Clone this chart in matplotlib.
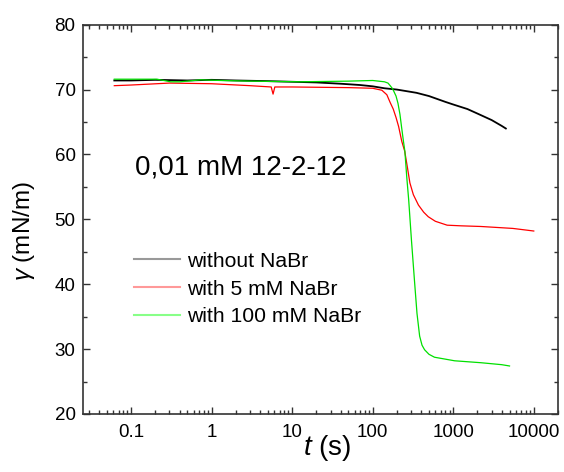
import numpy as np
import matplotlib
matplotlib.use('Agg')
import matplotlib.pyplot as plt
from matplotlib.ticker import LogLocator, MultipleLocator, FixedFormatter, FixedLocator

plt.rcParams['font.family'] = ['Liberation Sans', 'DejaVu Sans']
plt.rcParams['mathtext.fontset'] = 'custom'
plt.rcParams['mathtext.rm'] = 'Liberation Sans'
plt.rcParams['mathtext.it'] = 'Liberation Sans:italic'

# surface tension vs time, 0,01 mM 12-2-12
t_black = [0.062, 0.1, 0.2, 0.5, 1, 2, 5, 10, 20, 40, 70, 100, 140, 200, 350,
           500, 800, 1000, 1500, 2000, 3000, 4000, 4500]
g_black = [71.4, 71.4, 71.5, 71.4, 71.5, 71.4, 71.3, 71.2, 71.1, 70.9, 70.7, 70.5,
           70.2, 70.0, 69.5, 69.0, 68.1, 67.7, 67.0, 66.3, 65.3, 64.4, 64.0]

t_red = [0.062, 0.1, 0.3, 1, 3, 5.5, 5.8, 6.1, 10, 50, 100, 130, 150, 165, 180,
         195, 210, 230, 250, 270, 290, 320, 370, 430, 490, 600, 840, 1250, 2200,
         5500, 10000]
g_red = [70.6, 70.7, 71.0, 70.9, 70.6, 70.4, 69.3, 70.4, 70.4, 70.3, 70.2, 69.9,
         69.2, 68.0, 67.0, 65.7, 64.3, 62.0, 60.5, 58.0, 55.6, 53.8, 52.2, 51.1,
         50.4, 49.7, 49.1, 49.0, 48.9, 48.6, 48.2]

t_green = [0.062, 0.1, 0.21, 0.31, 0.41, 0.73, 1.3, 3, 12.6, 50, 100, 140, 155,
           165, 175, 182, 195, 206, 218, 228, 240, 251, 265, 280, 303, 332, 355,
           383, 410, 441, 500, 585, 1040, 2220, 4000, 5000]
g_green = [71.6, 71.6, 71.6, 71.2, 71.2, 71.5, 71.4, 71.3, 71.2, 71.3, 71.4, 71.2,
           71.0, 70.6, 70.2, 69.8, 69.0, 67.9, 66.2, 64.3, 62.2, 60.5, 56.5, 53.0,
           46.8, 40.2, 35.5, 32.0, 30.6, 29.9, 29.2, 28.75, 28.2, 27.9, 27.6, 27.4]

labels = ['without NaBr', 'with 5 mM NaBr', 'with 100 mM NaBr']
xticks = [0.1, 1, 10, 100, 1000, 10000]
xticklabels = ['0.1', '1', '10', '100', '1000', '10000']

fig = plt.figure(figsize=(5.64, 4.72), dpi=100)
ax = fig.add_axes([0.1463, 0.1229, 0.8431, 0.8248])

ax.plot(t_black, g_black, color='black', lw=1.3, label=labels[0])
ax.plot(t_red, g_red, color='red', lw=0.9, label=labels[1])
ax.plot(t_green, g_green, color='#00e000', lw=0.9, label=labels[2])

ax.set_xscale('log')
ax.set_xlim(0.025, 20000)
ax.set_ylim(20, 80)
ax.xaxis.set_major_locator(FixedLocator(xticks))
ax.xaxis.set_major_formatter(FixedFormatter(xticklabels))
ax.xaxis.set_minor_locator(LogLocator(base=10, subs=np.arange(2, 10), numticks=20))
ax.yaxis.set_major_locator(MultipleLocator(10))
ax.yaxis.set_minor_locator(MultipleLocator(5))

ax.tick_params(which='both', direction='in', top=True, right=True, width=1.0,
               color='#333333', labelsize=13.5)
ax.tick_params(which='major', length=5)
ax.tick_params(which='minor', length=3)
ax.tick_params(axis='x', which='major', pad=7)
ax.tick_params(axis='y', which='major', pad=5)
for s in ax.spines.values():
    s.set_linewidth(1.2)
    s.set_color('#333333')

ax.set_xlabel('$t$ (s)', fontsize=20)
ax.xaxis.set_label_coords(0.515, -0.05)
ax.set_ylabel(r'$\gamma$ (mN/m)', fontsize=17.5)
ax.yaxis.set_label_coords(-0.095, 0.47)

ax.text(0.11, 0.614, '0,01 mM 12-2-12', transform=ax.transAxes, fontsize=20,
        va='baseline')

leg = ax.legend(loc='upper left', bbox_to_anchor=(0.108, 0.417), frameon=False,
                fontsize=15.2, handlelength=2.2, handletextpad=0.3,
                borderpad=0, borderaxespad=0, labelspacing=0.42)
for h, c in zip(leg.get_lines(), ['#999999', '#ff9999', '#88ff88']):
    h.set_color(c)
    h.set_linewidth(1.5)

fig.savefig('out.png', dpi=100)
